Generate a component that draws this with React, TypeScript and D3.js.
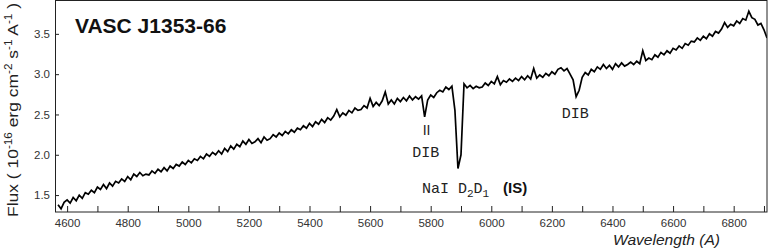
import React, { useEffect, useRef } from "react";
import * as d3 from "d3";

// Spectrum of VASC J1353-66, flux in 1e-16 erg cm^-2 s^-1 A^-1, sampled every 10 A from 4570 A
const wlStart = 4570;
const wlStep = 10;
const flux = [
  1.38, 1.33, 1.41, 1.44, 1.40, 1.47, 1.43, 1.50, 1.46, 1.53,
  1.51, 1.56, 1.53, 1.60, 1.57, 1.63, 1.58, 1.65, 1.61, 1.67,
  1.65, 1.70, 1.67, 1.73, 1.69, 1.76, 1.73, 1.78, 1.74, 1.76,
  1.75, 1.80, 1.77, 1.82, 1.79, 1.84, 1.80, 1.86, 1.83, 1.88,
  1.86, 1.91, 1.88, 1.93, 1.90, 1.95, 1.93, 1.98, 1.95, 2.01,
  1.98, 2.03, 2.00, 2.05, 2.01, 2.08, 2.04, 2.11, 2.07, 2.13,
  2.10, 2.17, 2.13, 2.19, 2.14, 2.16, 2.20, 2.15, 2.22, 2.18,
  2.20, 2.25, 2.22, 2.27, 2.24, 2.29, 2.26, 2.31, 2.28, 2.33,
  2.31, 2.36, 2.33, 2.39, 2.35, 2.41, 2.38, 2.44, 2.40, 2.46,
  2.43, 2.48, 2.56, 2.47, 2.52, 2.49, 2.55, 2.52, 2.58, 2.55,
  2.56, 2.61, 2.58, 2.70, 2.60, 2.65, 2.61, 2.67, 2.78, 2.63,
  2.68, 2.63, 2.70, 2.66, 2.71, 2.67, 2.73, 2.68, 2.72, 2.69,
  2.73, 2.47, 2.68, 2.74, 2.71, 2.77, 2.80, 2.78, 2.84, 2.81,
  2.85, 2.55, 1.83, 2.00, 2.88, 2.83, 2.86, 2.82, 2.85, 2.83,
  2.84, 2.89, 2.86, 2.91, 2.88, 2.97, 2.87, 2.92, 2.90, 2.94,
  2.91, 2.95, 2.92, 2.97, 2.93, 2.98, 2.94, 3.07, 2.95, 2.99,
  2.96, 3.01, 2.98, 3.03, 3.00, 3.06, 3.08, 3.04, 3.07, 3.00,
  2.93, 2.72, 2.80, 2.96, 3.02, 2.99, 3.06, 3.03, 3.09, 3.06,
  3.12, 3.07, 3.11, 3.06, 3.13, 3.09, 3.14, 3.10, 3.12, 3.15,
  3.12, 3.16, 3.13, 3.29, 3.17, 3.20, 3.18, 3.24, 3.21, 3.27,
  3.24, 3.29, 3.26, 3.32, 3.30, 3.35, 3.32, 3.38, 3.36, 3.41,
  3.40, 3.45, 3.42, 3.47, 3.44, 3.50, 3.47, 3.53, 3.51, 3.56,
  3.64, 3.58, 3.62, 3.60, 3.66, 3.63, 3.69, 3.67, 3.78, 3.70,
  3.68, 3.61, 3.63, 3.55, 3.45,
];

const xTicks = [
  4600, 4700, 4800, 4900, 5000, 5100, 5200, 5300, 5400, 5500, 5600, 5700,
  5800, 5900, 6000, 6100, 6200, 6300, 6400, 6500, 6600, 6700, 6800, 6900,
];
const xLabels = [4600, 4800, 5000, 5200, 5400, 5600, 5800, 6000, 6200, 6400, 6600, 6800];
const yTicks = [1.5, 2.0, 2.5, 3.0, 3.5];

// feature wavelengths used to place the labels
const dib1 = 5780;
const naD = 5890;
const dib2 = 6284;

const App = () => {
  const ref = useRef(null);

  useEffect(() => {
    const width = 769;
    const height = 252;
    const svg = d3.select(ref.current);
    svg.selectAll("*").remove();

    const x = d3.scaleLinear().domain([4560, 6910]).range([55, 767]);
    const y = d3.scaleLinear().domain([1.29, 3.92]).range([212, 0]);

    const data = flux.map((f, i) => ({ wl: wlStart + i * wlStep, f }));

    svg
      .append("defs")
      .append("clipPath")
      .attr("id", "plotclip")
      .append("rect")
      .attr("x", 55)
      .attr("y", 0)
      .attr("width", 712)
      .attr("height", 212);

    // spectrum
    const line = d3
      .line()
      .x((d) => x(d.wl))
      .y((d) => y(d.f));

    svg
      .append("path")
      .datum(data)
      .attr("clip-path", "url(#plotclip)")
      .attr("fill", "none")
      .attr("stroke", "#000")
      .attr("stroke-width", 1.7)
      .attr("stroke-linejoin", "miter")
      .attr("d", line);

    // x axis (ticks point inward)
    const xAxis = svg
      .append("g")
      .attr("transform", "translate(0,212)")
      .call(
        d3
          .axisBottom(x)
          .tickValues(xTicks)
          .tickSizeInner(-6)
          .tickSizeOuter(0)
          .tickPadding(7)
          .tickFormat((d) => (xLabels.includes(+d) ? String(d) : ""))
      );
    xAxis.select(".domain").remove();
    xAxis.selectAll("line").attr("stroke", "#222");
    xAxis
      .selectAll("text")
      .attr("font-family", "'Liberation Sans', Arial, sans-serif")
      .attr("font-size", 11.5)
      .attr("fill", "#333");

    // y axis
    const yAxis = svg
      .append("g")
      .attr("transform", "translate(55,0)")
      .call(
        d3
          .axisLeft(y)
          .tickValues(yTicks)
          .tickSizeInner(-4)
          .tickSizeOuter(0)
          .tickPadding(5)
          .tickFormat(d3.format(".1f"))
      );
    yAxis.select(".domain").remove();
    yAxis.selectAll("line").attr("stroke", "#222");
    yAxis
      .selectAll("text")
      .attr("font-family", "'Liberation Sans', Arial, sans-serif")
      .attr("font-size", 11.5)
      .attr("fill", "#333");

    // frame
    svg
      .append("rect")
      .attr("x", 55.5)
      .attr("y", 0.5)
      .attr("width", 711.5)
      .attr("height", 211.5)
      .attr("fill", "none")
      .attr("stroke", "#222")
      .attr("stroke-width", 1);

    // title
    svg
      .append("text")
      .attr("x", 75)
      .attr("y", 33)
      .attr("font-family", "'Liberation Sans', Arial, sans-serif")
      .attr("font-weight", "bold")
      .attr("font-size", 21)
      .attr("fill", "#111")
      .text("VASC J1353-66");

    const mono = "'Liberation Mono', monospace";

    // DIB 5780 marker and label
    svg
      .append("text")
      .attr("x", x(dib1) + 2)
      .attr("y", 135)
      .attr("text-anchor", "middle")
      .attr("font-family", "'Liberation Sans', Arial, sans-serif")
      .attr("font-size", 14)
      .attr("fill", "#222")
      .text("II");
    svg
      .append("text")
      .attr("x", x(dib1) + 1)
      .attr("y", 157)
      .attr("text-anchor", "middle")
      .attr("font-family", mono)
      .attr("font-size", 15)
      .attr("fill", "#222")
      .text("DIB");

    // DIB 6284 label
    svg
      .append("text")
      .attr("x", x(dib2) - 2)
      .attr("y", 118)
      .attr("text-anchor", "middle")
      .attr("font-family", mono)
      .attr("font-size", 15)
      .attr("fill", "#222")
      .text("DIB");

    // NaI D2 D1 (IS)
    const na = svg
      .append("text")
      .attr("x", x(naD) - 36)
      .attr("y", 193)
      .attr("font-family", mono)
      .attr("font-size", 15)
      .attr("fill", "#222");
    na.append("tspan").text("NaI D");
    na.append("tspan").attr("font-size", 11).attr("dy", 4).text("2");
    na.append("tspan").attr("dy", -4).text("D");
    na.append("tspan").attr("font-size", 11).attr("dy", 4).text("1");
    svg
      .append("text")
      .attr("x", 503)
      .attr("y", 193)
      .attr("font-family", "'Liberation Sans', Arial, sans-serif")
      .attr("font-weight", "bold")
      .attr("font-size", 15)
      .attr("fill", "#111")
      .text("(IS)");

    // x axis title
    svg
      .append("text")
      .attr("x", 613)
      .attr("y", 245)
      .attr("font-family", "'Liberation Sans', Arial, sans-serif")
      .attr("font-style", "italic")
      .attr("font-size", 14)
      .attr("fill", "#222")
      .attr("textLength", 107)
      .attr("lengthAdjust", "spacingAndGlyphs")
      .text("Wavelength (A)");

    // y axis title, rotated
    const yl = svg
      .append("text")
      .attr("transform", "translate(18,217) rotate(-90)")
      .attr("font-family", "'Liberation Sans', Arial, sans-serif")
      .attr("font-size", 15)
      .attr("fill", "#222")
      .attr("textLength", 214)
      .attr("lengthAdjust", "spacingAndGlyphs");
    const sup = (t) => {
      yl.append("tspan").attr("font-size", 10).attr("dy", -6).text(t);
    };
    const base = (t) => {
      yl.append("tspan").attr("dy", 6).text(t);
    };
    yl.append("tspan").text("Flux ( 10");
    sup("-16");
    base(" erg cm");
    sup("-2");
    base(" s");
    sup("-1");
    base(" A");
    sup("-1");
    base(" )");

    svg.attr("width", width).attr("height", height);
  }, []);

  return (
    <svg
      ref={ref}
      width={769}
      height={252}
      style={{ position: "absolute", left: 0, top: 0, background: "#fff" }}
    />
  );
};

export default App;
